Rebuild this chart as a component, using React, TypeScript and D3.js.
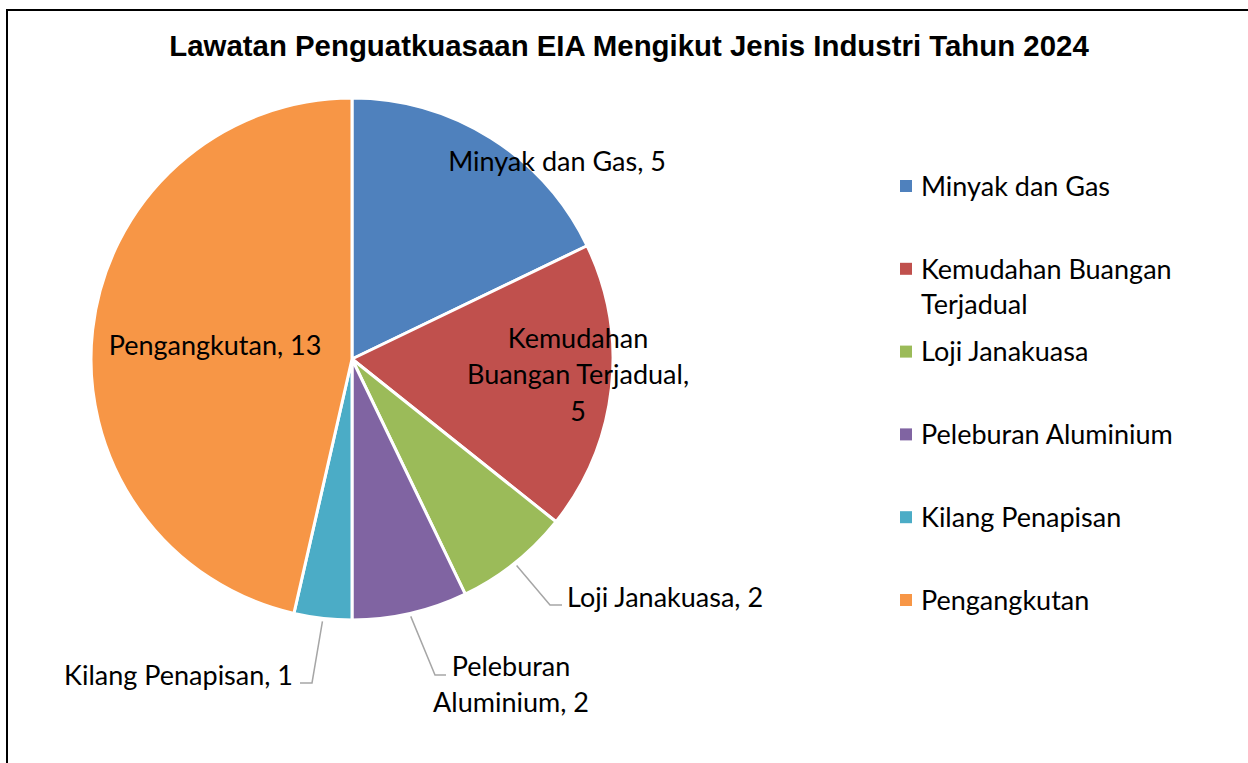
import React from "react";
import * as d3 from "d3";

const title = "Lawatan Penguatkuasaan EIA Mengikut Jenis Industri Tahun 2024";
const categories = [
  "Minyak dan Gas",
  "Kemudahan Buangan Terjadual",
  "Loji Janakuasa",
  "Peleburan Aluminium",
  "Kilang Penapisan",
  "Pengangkutan",
];
const values = [5, 5, 2, 2, 1, 13];
const colors = ["#4F81BD", "#C0504D", "#9BBB59", "#8064A2", "#4BACC6", "#F79646"];

// label text lines (as wrapped in the reference)
const labelLines = [
  ["Minyak dan Gas, 5"],
  ["Kemudahan", "Buangan Terjadual,", "5"],
  ["Loji Janakuasa, 2"],
  ["Peleburan", "Aluminium, 2"],
  ["Kilang Penapisan, 1"],
  ["Pengangkutan, 13"],
];
const legendLines = [
  ["Minyak dan Gas"],
  ["Kemudahan Buangan", "Terjadual"],
  ["Loji Janakuasa"],
  ["Peleburan Aluminium"],
  ["Kilang Penapisan"],
  ["Pengangkutan"],
];

// layout (positions relative to the pie centre; y = first line)
const CX = 352, CY = 359, R = 261;
const FONT = "Lato, 'Open Sans', sans-serif";
const FS = 27;
const LH = 36.5;
const TDY = 3;
type LabelLayout = { x: number; y: number; anchor: "start" | "middle" | "end"; leader?: [number, number][] };
const labelLayout: LabelLayout[] = [
  { x: 205, y: -198, anchor: "middle" },
  { x: 226, y: -21, anchor: "middle" },
  { x: 215, y: 238, anchor: "start", leader: [[198, 246], [210, 246]] },
  { x: 159, y: 307, anchor: "middle", leader: [[83, 316], [94, 316]] },
  { x: -59, y: 316, anchor: "end", leader: [[-40, 324], [-52, 324]] },
  { x: -137, y: -14, anchor: "middle" },
];

export default function App() {
  const pie = d3.pie<number>().sort(null).value((d) => d)(values);
  const arc = d3.arc<d3.PieArcDatum<number>>().innerRadius(0).outerRadius(R);
  const legendY0 = 186;
  const legendStep = 82.8;

  return (
    <svg
      width={1248}
      height={763}
      style={{ position: "absolute", left: 0, top: 0, background: "#fff" }}
      fontFamily={FONT}
    >
      <rect x={0} y={0} width={1248} height={763} fill="#fff" />
      <path d="M7,770 L7,10 L1260,10" fill="none" stroke="#000" strokeWidth={2} />
      <text
        x={629}
        y={48}
        textAnchor="middle"
        dominantBaseline="middle"
        fontFamily="'Liberation Sans', Arial, sans-serif"
        fontWeight="bold"
        fontSize={29.4}
        fill="#000"
      >
        {title}
      </text>
      <g transform={`translate(${CX},${CY})`}>
        {pie.map((p, i) => (
          <path key={i} d={arc(p) || ""} fill={colors[i]} stroke="#fff" strokeWidth={3} strokeLinejoin="round" />
        ))}
        {pie.map((p, i) => {
          const L = labelLayout[i];
          const lines = labelLines[i];
          const mid = (p.startAngle + p.endAngle) / 2;
          const sx = Math.sin(mid) * (R + 3);
          const sy = -Math.cos(mid) * (R + 3);
          return (
            <g key={"l" + i}>
              {L.leader && (
                <polyline
                  points={[[sx, sy], ...L.leader].map((q) => q.join(",")).join(" ")}
                  fill="none"
                  stroke="#A6A6A6"
                  strokeWidth={1.5}
                />
              )}
              {lines.map((t, j) => (
                <text
                  key={j}
                  x={L.x}
                  y={L.y + j * LH + TDY}
                  textAnchor={L.anchor}
                  dominantBaseline="middle"
                  fontSize={FS}
                  fill="#000"
                >
                  {t}
                </text>
              ))}
            </g>
          );
        })}
      </g>
      <g>
        {categories.map((c, i) => {
          const y = legendY0 + i * legendStep;
          return (
            <g key={c}>
              <rect x={900} y={y - 6} width={12} height={12} fill={colors[i]} />
              {legendLines[i].map((t, j) => (
                <text key={j} x={921} y={y + j * 35 + TDY} dominantBaseline="middle" fontSize={FS} fill="#000">
                  {t}
                </text>
              ))}
            </g>
          );
        })}
      </g>
    </svg>
  );
}
